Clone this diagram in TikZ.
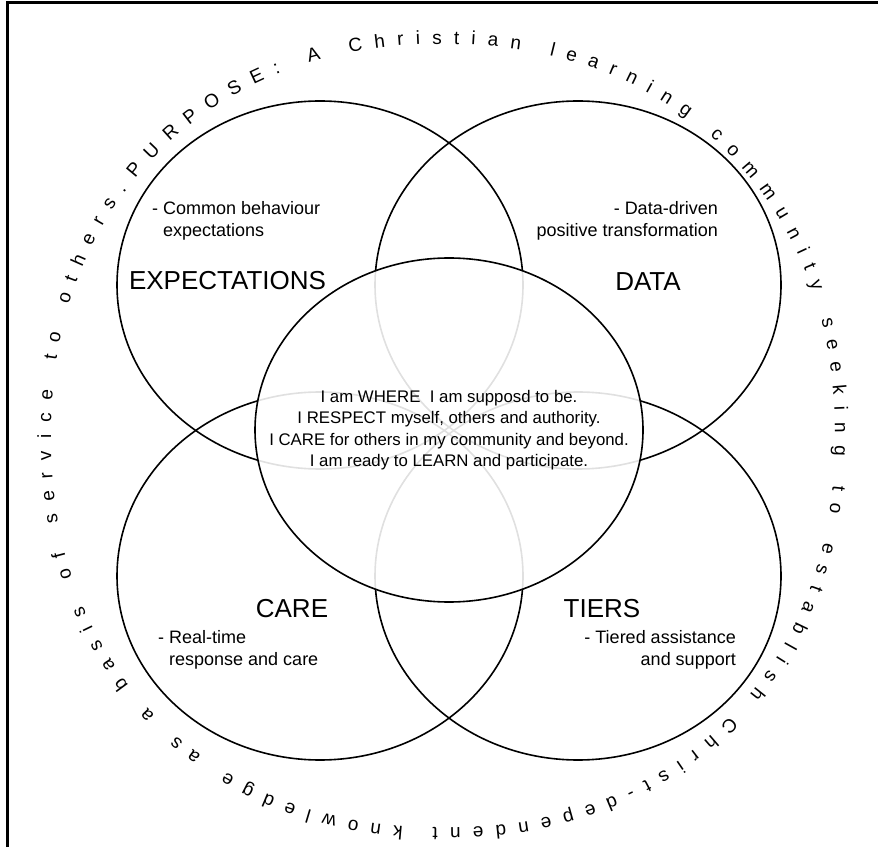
\documentclass[tikz,border=0pt]{standalone}
\usepackage{fontspec}
\setmainfont{Liberation Sans}
\usetikzlibrary{decorations.text}
\newcommand\ringfont{\fontsize{19}{19}\selectfont}
\begin{document}
\begin{tikzpicture}[x=1pt,y=1pt,
  venn/.style={draw=black, line width=1.6pt},
  hub/.style={draw=black, line width=1.6pt, fill=white, fill opacity=0.88},
  area/.style={font=\fontsize{26}{26}\selectfont, inner sep=0pt, anchor=base},
  note/.style={font=\fontsize{18}{22}\selectfont, inner sep=0pt},
  creed/.style={font=\fontsize{16.8}{21.5}\selectfont, align=center, inner sep=0pt},
  frameline/.style={line width=3pt, line join=miter}]
\useasboundingbox (0,0) rectangle (878,847);

% page frame (left and top edges)
\draw[frameline] (7.5,0) -- (7.5,844) -- (878,844);

% the four overlapping areas
\draw[venn] (320,562) ellipse [x radius=203, y radius=184];
\draw[venn] (578,562) ellipse [x radius=203, y radius=184];
\draw[venn] (320,271) ellipse [x radius=203, y radius=184];
\draw[venn] (578,271) ellipse [x radius=203, y radius=184];

% central area, lightly veiling the lines beneath it
\draw[hub] (449,417) ellipse [x radius=194, y radius=172];

% area titles
\node[area] (expect) at (227.5,557) {EXPECTATIONS};
\node[area] (data)   at (648,556)   {DATA};
\node[area] (care)   at (292,230)   {CARE};
\node[area] (tiers)  at (602,230)   {TIERS};

% area descriptions
\node[note, align=left,  anchor=north west] (expectnote) at (152,646)
  {- Common behaviour\\\hphantom{- }expectations};
\node[note, align=right, anchor=north east] (datanote) at (718,646)
  {- Data-driven\\positive transformation};
\node[note, align=left,  anchor=north west] (carenote) at (158,217)
  {- Real-time\\\hphantom{- }response and care};
\node[note, align=right, anchor=north east] (tiersnote) at (736,217)
  {- Tiered assistance\\and support};

% shared statements in the centre
\node[creed] (creed) at (449,417)
  {I am WHERE\ \ I am supposd to be.\\
   I RESPECT myself, others and authority.\\
   I CARE for others in my community and beyond.\\
   I am ready to LEARN and participate.};

% purpose statement running clockwise round the diagram, on a slightly
% squarish ring so that it clears the shapes at the diagonals
\path[decorate, decoration={text along path, text align={fit to path},
  text={|\ringfont|PURPOSE: A Christian learning community seeking to establish Christ-dependent knowledge as a basis of service to others.}}]
  plot[domain=140.5:-217.5, samples=359, variable=\t]
  ({443+392*cos(\t)*pow(abs(cos(\t)),-0.07)},
   {411+392*sin(\t)*pow(abs(sin(\t)),-0.07)});
\end{tikzpicture}
\end{document}
